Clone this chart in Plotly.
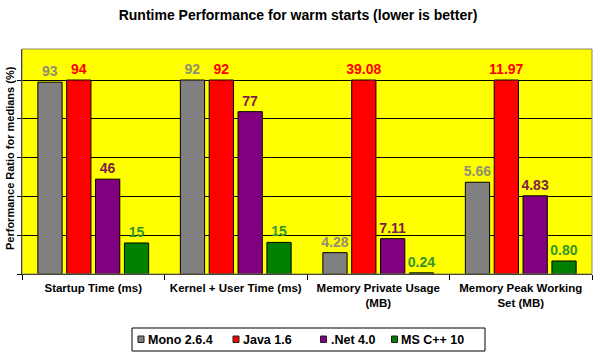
import plotly.graph_objects as go

categories = ["Startup Time (ms)", "Kernel + User Time (ms)",
              "Memory Private Usage<br>(MB)", "Memory Peak Working<br>Set (MB)"]
series_names = ["Mono 2.6.4", "Java 1.6", ".Net 4.0", "MS C++ 10"]

# bar heights: performance ratio (%)
mono_ratio = [98.9, 100, 11.0, 47.3]
java_ratio = [100, 100, 100, 100]
net_ratio = [48.9, 83.7, 18.2, 40.3]
cpp_ratio = [16.0, 16.3, 0.6, 6.7]

# data labels shown above bars
mono_labels = ["93", "92", "4.28", "5.66"]
java_labels = ["94", "92", "39.08", "11.97"]
net_labels = ["46", "77", "7.11", "4.83"]
cpp_labels = ["15", "15", "0.24", "0.80"]

bar_colors = ["#808080", "#FF0000", "#800080", "#008000"]
label_colors = ["#8f8f72", "#FF0000", "#7a1f4a", "#33962a"]

FONT = "Arial, Liberation Sans, sans-serif"

W, H = 596, 354
L, R, T, B = 22, 4, 49, 80
PW, PH = W - L - R, H - T - B


def px(x):
    return (x - L) / PW


def py(y):
    return (H - B - y) / PH


fig = go.Figure()
for name, vals, labs, bc, lc in zip(series_names,
                                    [mono_ratio, java_ratio, net_ratio, cpp_ratio],
                                    [mono_labels, java_labels, net_labels, cpp_labels],
                                    bar_colors, label_colors):
    fig.add_trace(go.Bar(
        name=name, x=categories, y=vals, text=labs,
        textposition="outside", cliponaxis=False, constraintext="none",
        textfont=dict(family=FONT, size=14, color=lc, weight="bold"),
        marker=dict(color=bc, line=dict(color="black", width=1)),
        hoverinfo="skip", showlegend=False,
    ))

fig.update_layout(
    width=W, height=H,
    margin=dict(l=L, r=R, t=T, b=B, autoexpand=False),
    paper_bgcolor="white", plot_bgcolor="#FFFF00",
    barmode="group", bargap=0.19, bargroupgap=0.16,
    font=dict(family=FONT, color="black"),
    title=dict(text="<b>Runtime Performance for warm starts (lower is better)</b>",
               x=0.5, xref="container", xanchor="center",
               y=1 - 15 / H, yref="container", yanchor="middle",
               font=dict(family=FONT, size=14, color="black")),
    showlegend=False,
    xaxis=dict(showline=True, linecolor="black", linewidth=1,
               ticks="outside", ticklen=5, tickcolor="black",
               tickson="boundaries", ticklabelstandoff=3, automargin=False,
               tickfont=dict(family=FONT, size=11.5, color="black", weight="bold"),
               showgrid=False, mirror=False),
    yaxis=dict(range=[0, 116], dtick=20, showticklabels=False, automargin=False,
               showgrid=True, gridcolor="black", gridwidth=1,
               showline=True, linecolor="black", linewidth=1,
               ticks="outside", ticklen=4, tickcolor="black",
               zeroline=False),
)

# grey plot border
fig.add_shape(type="rect", xref="paper", yref="paper", x0=0, x1=1, y0=0, y1=1,
              line=dict(color="#8a8a6a", width=1), layer="above")

fig.add_annotation(text="<b>Performance Ratio for medians (%)</b>",
                   xref="paper", yref="paper", x=px(10), y=py(158),
                   xanchor="center", yanchor="middle",
                   textangle=-90, showarrow=False,
                   font=dict(family=FONT, size=11, color="black"))

# custom legend box
fig.add_shape(type="rect", xref="paper", yref="paper",
              x0=px(132), x1=px(485), y0=py(351), y1=py(328),
              line=dict(color="black", width=1), fillcolor="white")
marker_x = [138, 233, 320.5, 391.5]
for name, color, mx in zip(series_names, bar_colors, marker_x):
    fig.add_shape(type="rect", xref="paper", yref="paper",
                  x0=px(mx), x1=px(mx + 6), y0=py(342.5), y1=py(336),
                  line=dict(color="#222222", width=1), fillcolor=color)
    fig.add_annotation(text="<b>" + name + "</b>", xref="paper", yref="paper",
                       x=px(mx + 8), y=py(339.5), xanchor="left", yanchor="middle",
                       showarrow=False,
                       font=dict(family=FONT, size=12.5, color="black"))

fig.write_html("out.html")
